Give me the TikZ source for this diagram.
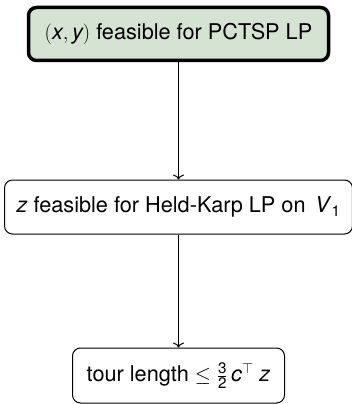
\documentclass[tikz,border=0pt]{standalone}
\usepackage{amsmath}
\usepackage{fontspec}
\setmainfont{TeX Gyre Heros}
\usetikzlibrary{arrows.meta}

\definecolor{lpgreen}{RGB}{213,227,211}

\tikzset{
  stepbox/.style={draw, rounded corners=8pt, line width=1pt, minimum height=54pt,
    inner xsep=12pt, font=\fontsize{21.7}{26}\selectfont},
  startbox/.style={stepbox, fill=lpgreen, line width=3.5pt},
  flow/.style={-{To[length=5pt, width=11pt]}, line width=1pt}
}

\begin{document}
\begin{tikzpicture}[x=1pt,y=-1pt]
\useasboundingbox (0,0) rectangle (351,404);
% three steps of the argument, top to bottom
\node[startbox, minimum width=300pt, minimum height=53pt] (lp) at (178.5,34)
  {$(\textit{x}, \textit{y})$ feasible for PCTSP LP};
\node[stepbox, minimum width=338pt] (hk) at (178.5,207)
  {\textit{z} feasible for Held-Karp LP on \,\textit{V}$_{\text{1}}$};
\node[stepbox, minimum width=212pt, minimum height=55pt] (tour) at (178.5,375.5)
  {tour length $\leq \frac{\text{3}}{\text{2}}\,\textit{c}^{\top}\;\textit{z}$};
\draw[flow] (lp) -- (hk);
\draw[flow] (hk) -- (tour);
\end{tikzpicture}
\end{document}
